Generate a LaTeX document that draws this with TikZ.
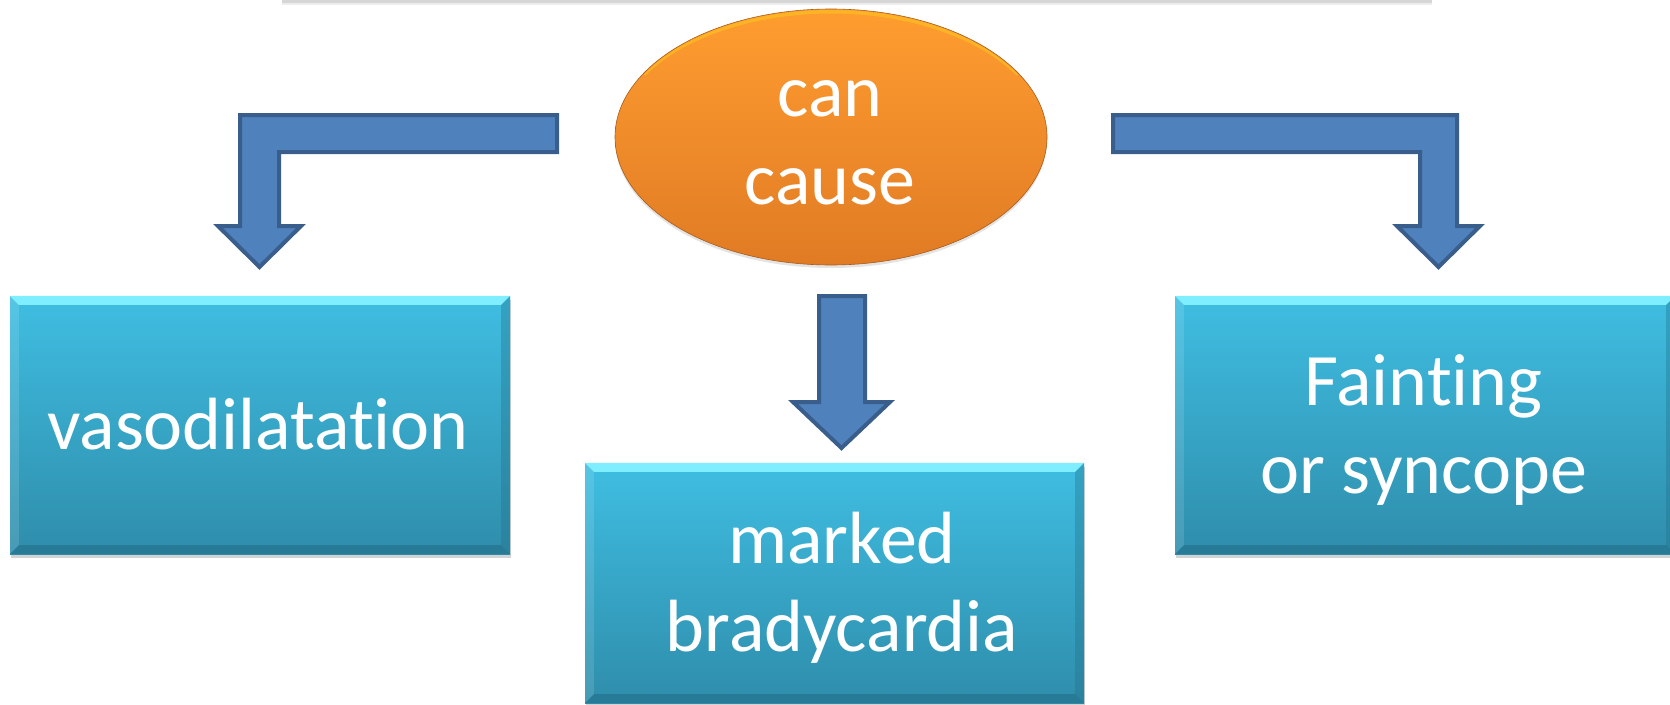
\documentclass[tikz,border=0pt]{standalone}
\usepackage{fontspec}
\setmainfont{Carlito}[Ligatures={NoCommon,NoContextual}]
\usetikzlibrary{calc,shadows,shapes.geometric}

\definecolor{arrowfill}{HTML}{4F81BD}
\definecolor{arrowline}{HTML}{3A5E8C}
\definecolor{boxtop}{HTML}{3FBEE2}
\definecolor{boxbot}{HTML}{2F8DAB}
\definecolor{bevtop}{HTML}{7FEEFF}
\definecolor{bevbot}{HTML}{236F88}
\definecolor{ovtop}{HTML}{FF9D30}
\definecolor{ovbot}{HTML}{E07B24}

\tikzset{
  blockarrow/.style={fill=arrowfill, draw=arrowline, line width=4pt, line join=miter},
  cbox/.style={rectangle, inner sep=0pt, top color=boxtop, bottom color=boxbot,
    drop shadow={opacity=0.35, shadow xshift=1pt, shadow yshift=-4pt}},
  lbl/.style={text=white, align=center, inner sep=0pt,
    font=\fontsize{74}{88}\selectfont},
  oval/.style={ellipse, inner sep=0pt, top color=ovtop, bottom color=ovbot,
    draw=ovbot!75!black, line width=0.6pt,
    drop shadow={opacity=0.22, shadow xshift=0pt, shadow yshift=-3pt}}
}

% beveled box: name, centre, width, height
\newcommand{\bevbox}[4]{%
  \node[cbox, minimum width=#3pt, minimum height=#4pt] (#1) at (#2) {};
  \fill[bevtop] (#1.north west) -- (#1.north east)
     -- ($(#1.north east)+(-9,9)$) -- ($(#1.north west)+(9,9)$) -- cycle;
  \fill[white, opacity=0.12] (#1.north west) -- ($(#1.north west)+(9,9)$)
     -- ($(#1.south west)+(9,-9)$) -- (#1.south west) -- cycle;
  \fill[bevbot, opacity=0.35] (#1.north east) -- ($(#1.north east)+(-9,9)$)
     -- ($(#1.south east)+(-9,-9)$) -- (#1.south east) -- cycle;
  \fill[bevbot, opacity=0.6] (#1.south west) -- ($(#1.south west)+(9,-9)$)
     -- ($(#1.south east)+(-9,-9)$) -- (#1.south east) -- cycle;
}

\begin{document}
\begin{tikzpicture}[x=1pt, y=-1pt]
\useasboundingbox (0,0) rectangle (1670,704);

% shadow edge of a panel above
\fill[black!16] (282,0) rectangle (1432,2.5);
\fill[black!7] (282,2.5) rectangle (1432,4.5);

% central oval with a light rim along its upper edge
\node[oval, minimum width=432pt, minimum height=256pt] (cause) at (831,137) {};
\begin{scope}
  \clip (cause.center) ellipse[x radius=215, y radius=127];
  \draw[yellow!60!ovtop, line width=4pt, opacity=0.45]
    (cause.center) ++(-187.1,-62.7) arc[start angle=-150, end angle=-30, x radius=216, y radius=125.5];
\end{scope}
\node[lbl] (causeT) at (830,143) {\strut can\\\strut cause};

% result boxes
\bevbox{vaso}{260,425}{500}{258}
\node[lbl] (vasoT) at (258,432) {\strut vasodilatation};

\bevbox{brady}{834.5,583}{499}{240}
\node[lbl] (bradyT) at (842,590) {\strut marked\\\strut bradycardia};

\bevbox{faint}{1425,425}{500}{258}
\node[lbl] (faintT) at (1423.5,432) {\strut Fainting\\\strut or syncope};

% block arrows from the oval to the boxes
\draw[blockarrow] (557,115) -- (240,115) -- (240,226) -- (218,226) -- (259.5,267)
  -- (301,226) -- (279,226) -- (279,152) -- (557,152) -- cycle;
\draw[blockarrow] (1113,115) -- (1457,115) -- (1457,226) -- (1480,226) -- (1438.5,267)
  -- (1397,226) -- (1420,226) -- (1420,152) -- (1113,152) -- cycle;
\draw[blockarrow] (819,296) -- (865,296) -- (865,402) -- (890,402) -- (841.5,448)
  -- (793,402) -- (819,402) -- cycle;
\end{tikzpicture}
\end{document}
